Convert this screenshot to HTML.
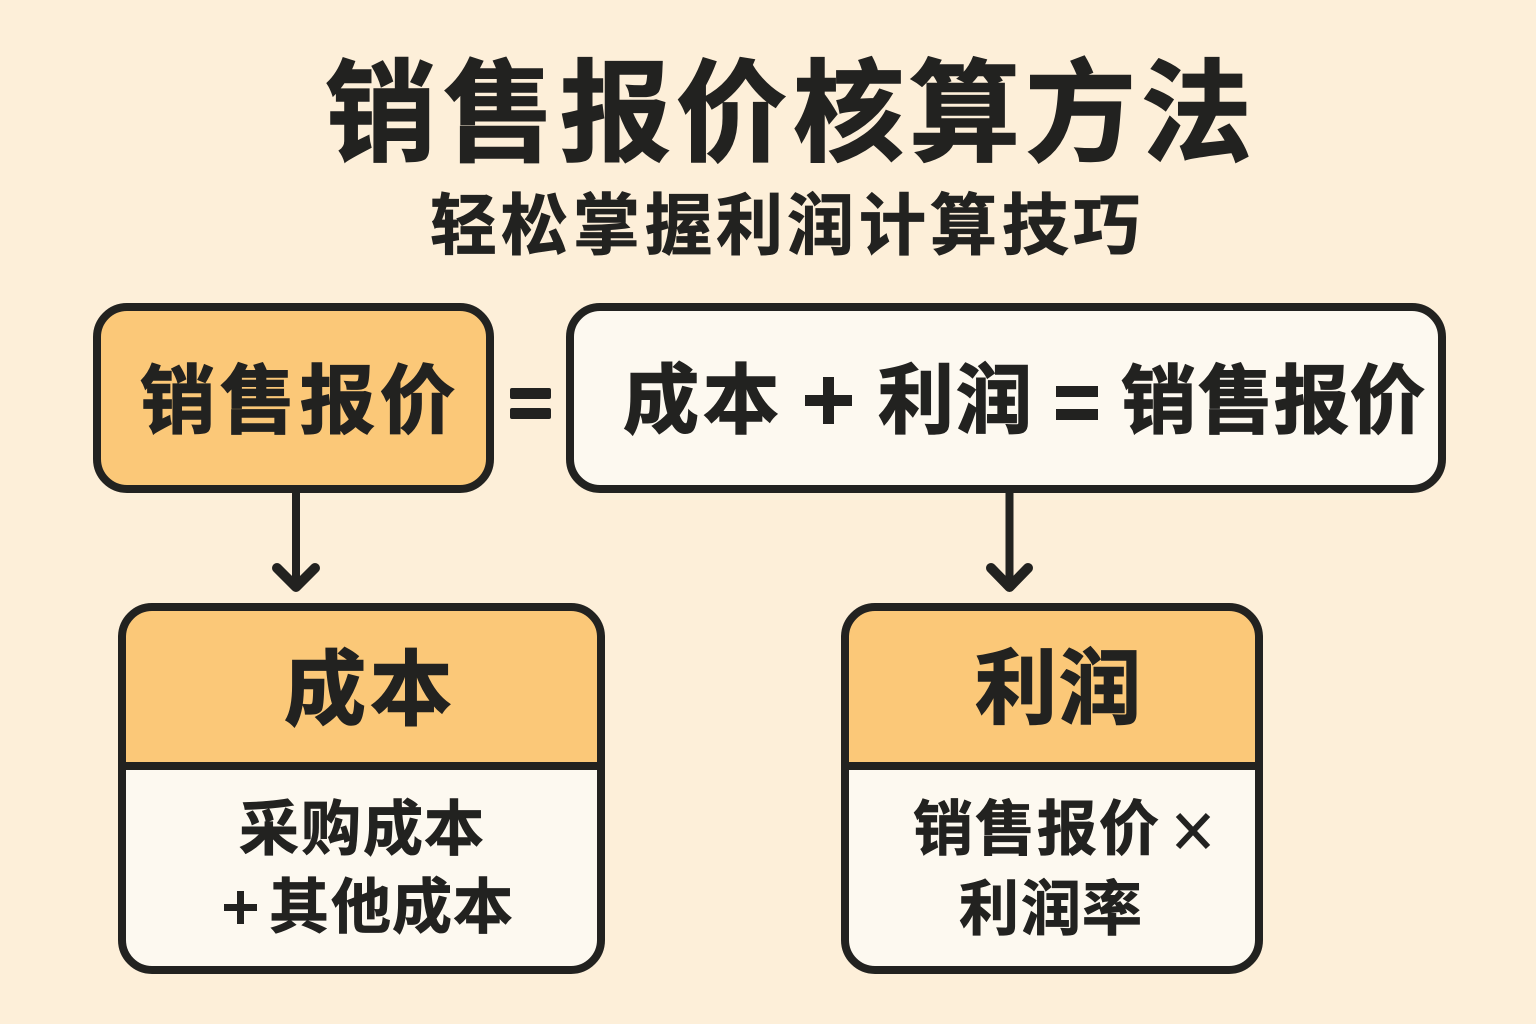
<!DOCTYPE html>
<html lang="zh-CN">
<head>
<meta charset="utf-8">
<title>销售报价核算方法</title>
<style>
html,body{margin:0;padding:0;background:#fdefd9;}
svg{display:block;}
text{font-family:"Liberation Sans","Noto Sans CJK SC",sans-serif;font-weight:700;fill:#222220;}
.h{stroke:#222220;stroke-width:1.5px;paint-order:stroke;}
.m{stroke:#222220;stroke-width:.8px;paint-order:stroke;}
</style>
</head>
<body>
<svg width="1536" height="1024" viewBox="0 0 1536 1024" xmlns="http://www.w3.org/2000/svg">
<rect width="1536" height="1024" fill="#fdefd9"/>

<text class="h" x="325 443 560 676 793 909 1025 1141" y="152" font-size="111">销售报价核算方法</text>
<text class="m" x="430 501 573 645 716 787 859 930 1002 1073" y="249" font-size="67">轻松掌握利润计算技巧</text>

<rect x="97" y="307" width="393" height="182" rx="30" fill="#fbc878" stroke="#222220" stroke-width="8"/>
<text class="h" x="140 220 300 380" y="427" font-size="75">销售报价</text>

<rect x="510" y="388" width="41" height="11" rx="2" fill="#222220"/>
<rect x="510" y="408" width="41" height="11" rx="2" fill="#222220"/>

<rect x="570" y="307" width="872" height="182" rx="30" fill="#fdf9f0" stroke="#222220" stroke-width="8"/>
<text class="h" x="623 703" y="427" font-size="76">成本</text>
<rect x="805" y="395" width="47" height="11" fill="#222220"/>
<rect x="823" y="377" width="11" height="47" fill="#222220"/>
<text class="h" x="878 956" y="427" font-size="76">利润</text>
<rect x="1056" y="386" width="42" height="11" fill="#222220"/>
<rect x="1056" y="409" width="42" height="11" fill="#222220"/>
<text class="h" x="1121 1198 1274 1350" y="427" font-size="75">销售报价</text>

<path d="M296 491V586" fill="none" stroke="#222220" stroke-width="8"/>
<path d="M277 568L296 587L315 568" fill="none" stroke="#222220" stroke-width="10" stroke-linecap="round" stroke-linejoin="round"/>
<path d="M1009.500 491V586" fill="none" stroke="#222220" stroke-width="8"/>
<path d="M991 568L1009.500 587L1028 568" fill="none" stroke="#222220" stroke-width="10" stroke-linecap="round" stroke-linejoin="round"/>

<path d="M122 766V637a30 30 0 0 1 30-30H571a30 30 0 0 1 30 30V766Z" fill="#fbc878"/>
<path d="M122 766V940a30 30 0 0 0 30 30H571a30 30 0 0 0 30-30V766Z" fill="#fdf9f0"/>
<rect x="122" y="607" width="479" height="363" rx="30" fill="none" stroke="#222220" stroke-width="8"/>
<path d="M122 766H601" stroke="#222220" stroke-width="8"/>
<text class="h" x="284 370" y="718" font-size="82">成本</text>
<text class="m" x="239 301 363 424" y="850" font-size="60">采购成本</text>
<rect x="224" y="904" width="33" height="7" fill="#222220"/>
<rect x="237" y="891" width="7" height="33" fill="#222220"/>
<text class="m" x="269 331 392 453" y="928" font-size="60">其他成本</text>

<path d="M845 766V637a30 30 0 0 1 30-30H1229a30 30 0 0 1 30 30V766Z" fill="#fbc878"/>
<path d="M845 766V940a30 30 0 0 0 30 30H1229a30 30 0 0 0 30-30V766Z" fill="#fdf9f0"/>
<rect x="845" y="607" width="414" height="363" rx="30" fill="none" stroke="#222220" stroke-width="8"/>
<path d="M845 766H1259" stroke="#222220" stroke-width="8"/>
<text class="h" x="975 1059" y="717" font-size="82">利润</text>
<text class="m" x="913 975 1037 1099" y="850" font-size="60">销售报价</text>
<path d="M1178 815L1208 847M1208 815L1178 847" fill="none" stroke="#222220" stroke-width="6"/>
<text class="m" x="959 1021 1082" y="930" font-size="60">利润率</text>
</svg>
</body>
</html>
